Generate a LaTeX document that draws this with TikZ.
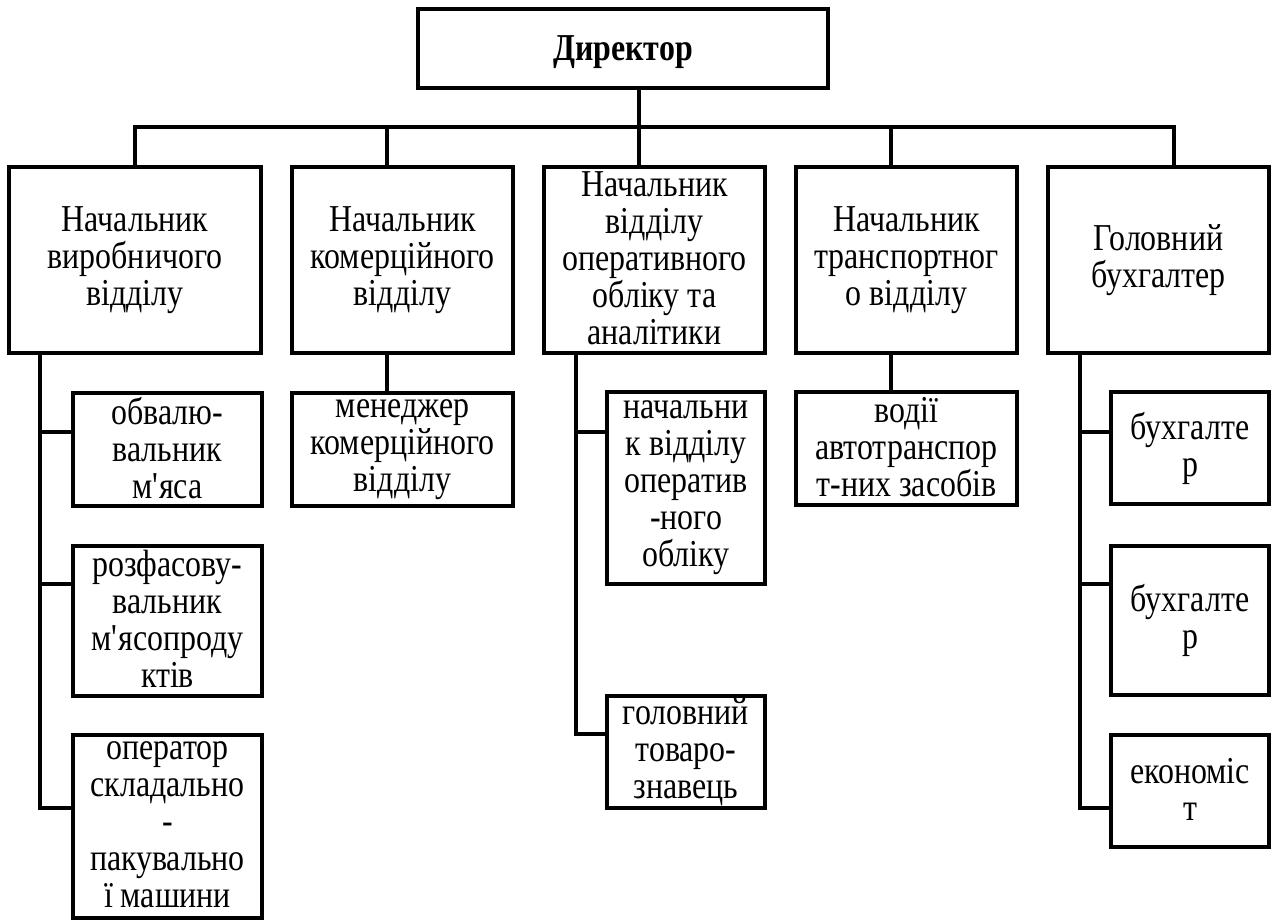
\documentclass[tikz,border=0pt]{standalone}
\usepackage{fontspec}
\setmainfont{Liberation Serif}[FakeStretch=0.84]
\usepackage{tikz}
\usetikzlibrary{positioning}
\newcommand{\linestrut}{\rule[-4pt]{0pt}{37pt}}

\begin{document}
\begin{tikzpicture}[x=1pt, y=-1pt]
\tikzstyle{boss}=[rectangle, draw=black, line width=3.4pt, inner sep=0pt, align=center, font=\fontsize{38}{37}\selectfont\bfseries, execute at begin node=\linestrut, minimum width=410pt, minimum height=79pt]
\tikzstyle{dept}=[rectangle, draw=black, line width=3.4pt, inner sep=0pt, align=center, font=\fontsize{38}{37}\selectfont, execute at begin node=\linestrut, execute at end node=\linestrut, minimum width=221pt, minimum height=186pt]
\tikzstyle{staff}=[rectangle, draw=black, line width=3.4pt, inner sep=0pt, align=center, font=\fontsize{38}{37}\selectfont, execute at begin node=\linestrut, execute at end node=\linestrut]
\tikzstyle{connect}=[-, line width=3.4pt]
\useasboundingbox (0,0) rectangle (1273,920);
% top
\node[boss] (dir) at (623,48.5) {Директор};
% departments
\node[dept, minimum width=252pt] (n1) at (135,260) {Начальник\\виробничого\\відділу};
\node[dept] (n2) at (402.5,260) {Начальник\\комерційного\\відділу};
\node[dept] (n3) at (654.5,260) {Начальник\\відділу\\оперативного\\обліку та\\аналітики};
\node[dept] (n4) at (906.5,260) {Начальник\\транспортног\\о відділу};
\node[dept] (n5) at (1158.5,260) {Головний\\бухгалтер};
% staff
\node[staff, minimum width=189pt, minimum height=113pt] (ob) at (167.5,449.5) {обвалю-\\вальник\\м\textquotesingle яса};
\node[staff, minimum width=189pt, minimum height=150pt] (roz) at (167.5,621) {розфасову-\\вальник\\м\textquotesingle ясопроду\\ктів};
\node[staff, minimum width=189pt, minimum height=183pt] (oper) at (167.5,826.5) {оператор\\складально\\-\\пакувально\\ї машини};
\node[staff, minimum width=221pt, minimum height=113pt] (men) at (402.5,449.5) {менеджер\\комерційного\\відділу};
\node[staff, minimum width=158pt, minimum height=192pt] (nvo) at (686,488) {начальни\\к відділу\\оператив\\-ного\\обліку};
\node[staff, minimum width=158pt, minimum height=112pt] (tov) at (686,752) {головний\\товаро-\\знавець};
\node[staff, minimum width=221pt, minimum height=113pt] (vod) at (906.5,448.5) {водії\\автотранспор\\т-них засобів};
\node[staff, minimum width=158pt, minimum height=112pt] (bh1) at (1190,448) {бухгалте\\р};
\node[staff, minimum width=158pt, minimum height=149pt] (bh2) at (1190,620.5) {бухгалте\\р};
\node[staff, minimum width=158pt, minimum height=112pt] (eco) at (1190,791) {економіс\\т};
% bus and branch levels
\coordinate (d1) at (135,127);
\coordinate (d2) at (387,127);
\coordinate (d3) at (639,127);
\coordinate (d4) at (891,127);
\coordinate (d5) at (1174,127);
\coordinate (r1) at (0,432);
\coordinate (r2) at (0,584);
\coordinate (r3) at (0,808);
\coordinate (r4) at (0,734);
\coordinate (k1) at (40,0);
\coordinate (k3) at (576,0);
\coordinate (k5) at (1080,0);
\draw[connect] (n1.north -| d1) -- (d1) -- (d5) -- (n5.north -| d5);
\path (dir.south -| d3) edge [connect] (n3.north -| d3);
\path (d2) edge [connect] (n2.north -| d2);
\path (d4) edge [connect] (n4.north -| d4);
\draw[connect] (n1.south -| k1) -- (k1 |- r3) -- (oper.west |- r3);
\path (k1 |- r1) edge [connect] (ob.west |- r1);
\path (k1 |- r2) edge [connect] (roz.west |- r2);
\path (n2.south -| d2) edge [connect] (men.north -| d2);
\draw[connect] (n3.south -| k3) -- (k3 |- r4) -- (tov.west |- r4);
\path (k3 |- r1) edge [connect] (nvo.west |- r1);
\path (n4.south -| d4) edge [connect] (vod.north -| d4);
\draw[connect] (n5.south -| k5) -- (k5 |- r3) -- (eco.west |- r3);
\path (k5 |- r1) edge [connect] (bh1.west |- r1);
\path (k5 |- r2) edge [connect] (bh2.west |- r2);
\end{tikzpicture}
\end{document}
